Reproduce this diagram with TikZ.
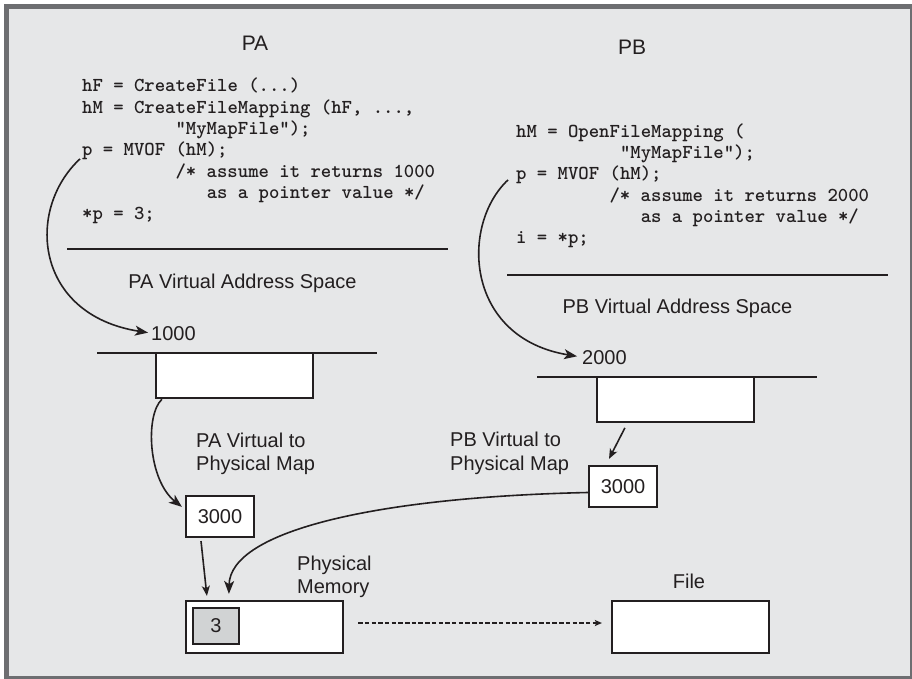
\documentclass[tikz,border=0pt]{standalone}
\usepackage{fontspec}
\setmainfont{Liberation Sans}
\usetikzlibrary{arrows.meta,calc}
\definecolor{ink}{HTML}{231F20}
\definecolor{bg}{HTML}{E6E7E8}
\definecolor{framegray}{HTML}{6D6E71}
\definecolor{cellgray}{HTML}{D1D3D4}
\begin{document}
\begin{tikzpicture}[x=1pt,y=-1pt,
  code/.style={font=\ttfamily\bfseries\fontsize{19.77pt}{21pt}\selectfont, anchor=base west, inner sep=0pt, text=ink},
  lbl/.style={font=\fontsize{20pt}{23.5pt}\selectfont, inner sep=0pt, text=ink},
  box/.style={draw=ink, line width=2.2pt, fill=white, inner sep=0pt, font=\fontsize{20pt}{23.5pt}\selectfont, text=ink},
  rule/.style={draw=ink, line width=2.2pt},
  conn/.style={draw=ink, line width=1.6pt, -{Stealth[length=13pt,width=10pt,inset=3.5pt]}},
  connsmall/.style={draw=ink, line width=1.6pt, -{Stealth[length=10pt,width=8pt,inset=2.5pt]}},
  dashconn/.style={draw=ink, line width=1.6pt, dash pattern=on 4.5pt off 2.2pt, -{Stealth[length=7pt,width=6pt,inset=1.5pt]}}
]
\useasboundingbox (0,0) rectangle (912,679);
\fill[white] (0,0) rectangle (912,679);
\fill[framegray] (4,4) rectangle (912,679);
\fill[bg] (9,9) rectangle (910,676);

% titles
\node[lbl, font=\fontsize{21pt}{25pt}\selectfont] (pa) at (255,43) {PA};
\node[lbl, font=\fontsize{21pt}{25pt}\selectfont] (pb) at (632,47) {PB};

% PA code
\node[code] (a1) at (82,92) {hF = CreateFile (...)};
\node[code] (a2) at (82,113.3) {hM = CreateFileMapping (hF, ...,};
\node[code] (a3) at (175.4,134.6) {"MyMapFile");};
\node[code] (a4) at (82,155.9) {p = MVOF (hM);};
\node[code] (a5) at (175.4,177.2) {/* assume it returns 1000};
\node[code] (a6) at (206.6,198.5) {as a pointer value */};
\node[code] (a7) at (82,219.8) {*p = 3;};

% PB code
\node[code] (b1) at (516,137.3) {hM = OpenFileMapping (};
\node[code] (b2) at (619.8,158.6) {"MyMapFile");};
\node[code] (b3) at (516,179.9) {p = MVOF (hM);};
\node[code] (b4) at (609.4,201.2) {/* assume it returns 2000};
\node[code] (b5) at (640.6,222.5) {as a pointer value */};
\node[code] (b6) at (516,243.8) {i = *p;};

% separators
\coordinate (sepaL) at (67,249);  \coordinate (sepaR) at (448,249);
\coordinate (sepbL) at (507,275); \coordinate (sepbR) at (888,275);
\draw[rule] (sepaL) -- (sepaR);
\draw[rule] (sepbL) -- (sepbR);

% labels
\node[lbl, anchor=base] (pavas) at (242.5,288) {PA Virtual Address Space};
\node[lbl, anchor=base] (pbvas) at (677.5,313) {PB Virtual Address Space};
\node[lbl, anchor=base west] (v1000) at (151,340) {1000};
\node[lbl, anchor=base west] (v2000) at (582,364) {2000};
\node[lbl, anchor=north west, align=left] (pamaplbl) at (196,432.7) {PA Virtual to\\Physical Map};
\node[lbl, anchor=north west, align=left] (pbmaplbl) at (450,432) {PB Virtual to\\Physical Map};
\node[lbl, anchor=north west, align=left] (memlbl) at (297,555.5) {Physical\\Memory};
\node[lbl, anchor=base] (filelbl) at (689,588.3) {File};

% address space lines
\coordinate (palL) at (97,352.7);  \coordinate (palR) at (377,352.7);
\coordinate (pblL) at (537,377.3); \coordinate (pblR) at (817,377.3);
\draw[rule] (palL) -- (palR);
\draw[rule] (pblL) -- (pblR);

% boxes
\node[box, minimum width=157pt, minimum height=45pt] (pabox) at (234.5,375.2) {};
\node[box, minimum width=157pt, minimum height=44.7pt] (pbbox) at (675.5,399.4) {};
\node[box, minimum width=68pt, minimum height=40.7pt] (pamap) at (220,516.3) {3000};
\node[box, minimum width=68pt, minimum height=41pt] (pbmap) at (623,486.5) {3000};
\node[box, minimum width=157pt, minimum height=52pt] (mem) at (264.5,627) {};
\node[box, fill=cellgray, minimum width=46pt, minimum height=36pt] (cell) at (216,626) {3};
\node[box, minimum width=157pt, minimum height=52pt] (file) at (690.5,627) {};

% connectors
\draw[conn, shorten >=3pt] ($(a4.base west)+(-2,3)$) .. controls (25,210) and (35,315) .. (v1000.west);
\draw[conn, shorten >=5pt] ($(b3.base west)+(-8,0)$) .. controls (460,225) and (465,338) .. (v2000.west);
\draw[conn] ($(pabox.south west)+(7,0.5)$) .. controls (145,415) and (148,480) .. ($(pamap.north west)+(-3,12)$);
\draw[connsmall] ($(pbbox.south west)+(29,5)$) -- ($(pbmap.north)+(-14,-6)$);
\draw[connsmall] ($(pamap.south)+(-19,3.3)$) -- ($(mem.north west)+(22,-4)$);
\draw[conn] ($(pbmap.west)+(0,6)$) .. controls (380,497) and (230,530) .. ($(mem.north west)+(44,-6)$);
\draw[dashconn] ($(mem.east)+(14,-4)$) -- ($(file.west)+(-9,-4)$);
\end{tikzpicture}
\end{document}
